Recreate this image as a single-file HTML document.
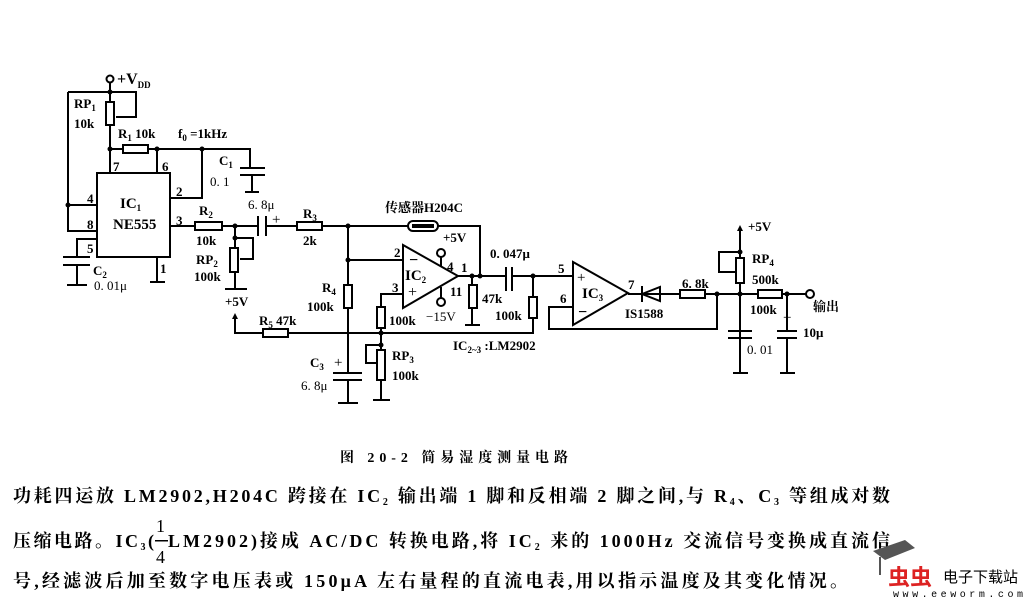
<!DOCTYPE html>
<html><head><meta charset="utf-8"><style>
html,body{margin:0;padding:0;background:#fff;}
svg{display:block}
text{font-family:"Liberation Serif","Noto Serif CJK SC",serif;fill:#000;}
.l{font-size:13px;font-weight:bold}
.s{font-size:9px;font-weight:bold}
</style></head><body>
<svg width="1024" height="597" viewBox="0 0 1024 597" xmlns="http://www.w3.org/2000/svg">
<g stroke="#000" stroke-width="2" fill="none">
<!-- VDD / RP1 -->
<circle cx="110" cy="79" r="3.5" fill="#fff"/>
<path d="M110 83V102 M110 125V173 M68 92H136V117H116 M68 92V231H97 M68 205H97"/>
<rect x="106" y="102" width="8" height="23"/>
<!-- R1 -->
<path d="M110 149H123 M148 149H250V168 M157 149V173 M202 149V198H170"/>
<rect x="123" y="145" width="25" height="8"/>
<path d="M240 168H265 M240 175H265 M252 175V192 M245 192H259" />
<!-- IC1 -->
<rect x="97" y="173" width="73" height="84"/>
<path d="M97 239H77V257 M63 257H90 M63 265H90 M77 265V285 M67 285H87 M157 257V282 M150 282H165"/>
<!-- pin3 chain -->
<path d="M170 226H195 M222 226H258 M267 226H297 M322 226H408 M438 226H480V276"/>
<rect x="195" y="222" width="27" height="8"/>
<path d="M258 216V236 M266 216V236"/>
<rect x="297" y="222" width="25" height="8"/>
<rect x="408" y="221" width="30" height="10" rx="5"/>
<path d="M412 226H434" stroke-width="4"/>
<!-- RP2 -->
<path d="M235 226V248 M235 272V289 M225 289H247 M235 238H253V259H240"/>
<rect x="230" y="248" width="8" height="24"/>
<!-- R4 / C3 -->
<path d="M348 226V285 M348 308V373 M348 260H403 M333 373H362 M333 380H362 M348 380V403 M338 403H358"/>
<rect x="344" y="285" width="8" height="23"/>
<!-- R5 line -->
<path d="M235 315V333H263 M288 333H533V318 M533 297V276"/>
<rect x="263" y="329" width="25" height="8"/>
<!-- IC2 -->
<path d="M403 245V308L458 276Z"/>
<path d="M403 294H381V307 M381 328V350 M381 380V400 M373 400H390 M381 345H366V363H376"/>
<rect x="377" y="307" width="8" height="21"/>
<rect x="377" y="350" width="8" height="30"/>
<path d="M441 257V266 M441 287V298"/>
<circle cx="441" cy="253" r="4" fill="#fff"/>
<circle cx="441" cy="302" r="4" fill="#fff"/>
<path d="M458 276H506 M512 276H573 M472 276V285 M472 308V325 M465 325H480"/>
<rect x="469" y="285" width="8" height="23"/>
<path d="M506 267V291 M512 267V291"/>
<rect x="529" y="297" width="8" height="21"/>
<!-- IC3 -->
<path d="M573 262V325L628 293Z"/>
<path d="M573 307H549V329H717V294 M628 294H680 M705 294H806"/>
<path d="M642 294L660 287V301Z"/>
<path d="M642 286V302"/>
<rect x="680" y="290" width="25" height="8" fill="#fff"/>
<!-- RP4 -->
<path d="M740 227V258 M740 283V337 M740 252H719V272H735"/>
<rect x="736" y="258" width="8" height="25"/>
<rect x="758" y="290" width="24" height="8" fill="#fff"/>
<path d="M728 331H752 M728 338H752 M740 338V373 M733 373H748 M787 294V331 M777 331H797 M777 338H797 M787 338V373 M780 373H795"/>
<circle cx="810" cy="294" r="4" fill="#fff"/>
</g>
<g fill="#000">
<circle cx="110" cy="92" r="2.5"/><circle cx="68" cy="205" r="2.5"/><circle cx="110" cy="149" r="2.5"/>
<circle cx="157" cy="149" r="2.5"/><circle cx="202" cy="149" r="2.5"/><circle cx="235" cy="226" r="2.5"/>
<circle cx="235" cy="238" r="2.5"/><circle cx="348" cy="226" r="2.5"/><circle cx="348" cy="260" r="2.5"/>
<circle cx="381" cy="333" r="2.5"/><circle cx="381" cy="345" r="2.5"/><circle cx="472" cy="276" r="2.5"/>
<circle cx="480" cy="276" r="2.5"/><circle cx="533" cy="276" r="2.5"/><circle cx="717" cy="294" r="2.5"/>
<circle cx="740" cy="294" r="2.5"/><circle cx="740" cy="252" r="2.5"/><circle cx="787" cy="294" r="2.5"/>
<path d="M235 313l-3 6h6z M740 225l-3 6h6z"/>
</g>
<!-- labels -->
<g class="l">
<text x="117" y="84" font-size="16">+V<tspan class="s" dy="4">DD</tspan></text>
<text x="74" y="108">RP<tspan class="s" dy="3">1</tspan></text>
<text x="74" y="128">10k</text>
<text x="118" y="138">R<tspan class="s" dy="3">1</tspan><tspan dy="-3"> 10k</tspan></text>
<text x="178" y="138">f<tspan class="s" dy="3">0</tspan><tspan dy="-3"> =1kHz</tspan></text>
<text x="219" y="165">C<tspan class="s" dy="3">1</tspan></text>
<text x="210" y="186" font-weight="normal">0. 1</text>
<text x="113" y="171">7</text><text x="162" y="171">6</text>
<text x="176" y="196">2</text><text x="176" y="225">3</text>
<text x="87" y="203">4</text><text x="87" y="229">8</text><text x="87" y="253">5</text>
<text x="160" y="273">1</text>
<text x="120" y="208" font-size="15">IC<tspan class="s" dy="3">1</tspan></text>
<text x="113" y="229" font-size="15">NE555</text>
<text x="93" y="275">C<tspan class="s" dy="3">2</tspan></text>
<text x="94" y="290" font-weight="normal">0. 01μ</text>
<text x="199" y="215">R<tspan class="s" dy="3">2</tspan></text>
<text x="196" y="245">10k</text>
<text x="196" y="264">RP<tspan class="s" dy="3">2</tspan></text>
<text x="194" y="281">100k</text>
<text x="248" y="209" font-weight="normal">6. 8μ</text>
<text x="272" y="224" font-size="15" font-weight="normal">+</text>
<text x="303" y="218">R<tspan class="s" dy="3">3</tspan></text>
<text x="303" y="245">2k</text>
<text x="385" y="212">传感器H204C</text>
<text x="443" y="242">+5V</text>
<text x="394" y="257">2</text><text x="392" y="292">3</text>
<text x="447" y="271">4</text><text x="461" y="272">1</text><text x="450" y="296">11</text>
<text x="409" y="265" font-size="16">−</text>
<text x="408" y="297" font-size="16" font-weight="normal">+</text>
<text x="405" y="280" font-size="15">IC<tspan class="s" dy="3">2</tspan></text>
<text x="389" y="325">100k</text>
<text x="426" y="321" font-weight="normal">−15V</text>
<text x="322" y="292">R<tspan class="s" dy="3">4</tspan></text>
<text x="307" y="311">100k</text>
<text x="225" y="306">+5V</text>
<text x="259" y="325">R<tspan class="s" dy="3">5</tspan><tspan dy="-3"> 47k</tspan></text>
<text x="310" y="367">C<tspan class="s" dy="3">3</tspan></text>
<text x="301" y="390" font-weight="normal">6. 8μ</text>
<text x="334" y="367" font-weight="normal" font-size="15">+</text>
<text x="392" y="360">RP<tspan class="s" dy="3">3</tspan></text>
<text x="392" y="380">100k</text>
<text x="453" y="350">IC<tspan class="s" dy="3">2~3</tspan><tspan dy="-3"> :LM2902</tspan></text>
<text x="490" y="258">0. 047μ</text>
<text x="482" y="303">47k</text>
<text x="495" y="320">100k</text>
<text x="558" y="273">5</text><text x="560" y="303">6</text><text x="628" y="289">7</text>
<text x="582" y="298" font-size="15">IC<tspan class="s" dy="3">3</tspan></text>
<text x="577" y="282" font-size="15" font-weight="normal">+</text>
<text x="578" y="317" font-size="16">−</text>
<text x="625" y="318">IS1588</text>
<text x="682" y="288">6. 8k</text>
<text x="748" y="231">+5V</text>
<text x="752" y="263">RP<tspan class="s" dy="3">4</tspan></text>
<text x="752" y="284">500k</text>
<text x="750" y="314">100k</text>
<text x="813" y="311">输出</text>
<text x="747" y="354" font-weight="normal">0. 01</text>
<text x="783" y="322" font-weight="normal" font-size="15">+</text>
<text x="803" y="337">10μ</text>
</g>
<text x="340" y="462" font-size="14" font-weight="bold" textLength="228" lengthAdjust="spacing">图 20-2   简易湿度测量电路</text>
<g font-size="18" font-weight="bold">
<text x="13" y="502" textLength="877" lengthAdjust="spacing">功耗四运放 LM2902,H204C 跨接在 IC<tspan font-size="10" dy="3">2</tspan><tspan dy="-3"> 输出端 1 脚和反相端 2 脚之间,与 R</tspan><tspan font-size="10" dy="3">4</tspan><tspan dy="-3">、C</tspan><tspan font-size="10" dy="3">3</tspan><tspan dy="-3"> 等组成对数</tspan></text>
<text x="13" y="547" textLength="141" lengthAdjust="spacing">压缩电路。IC<tspan font-size="10" dy="3">3</tspan><tspan dy="-3">(</tspan></text>
<text x="156" y="532" font-weight="normal">1</text>
<rect x="155" y="540" width="13" height="1.5" fill="#000"/>
<text x="156" y="563" font-weight="normal">4</text>
<text x="168" y="547" textLength="722" lengthAdjust="spacing">LM2902)接成 AC/DC 转换电路,将 IC<tspan font-size="10" dy="3">2</tspan><tspan dy="-3"> 来的 1000Hz 交流信号变换成直流信</tspan></text>
<text x="13" y="587" textLength="835" lengthAdjust="spacing">号,经滤波后加至数字电压表或 150μA 左右量程的直流电表,用以指示温度及其变化情况。</text>
</g>
<!-- logo -->
<path d="M873 551L905 540L915 548L885 560Z" fill="#555"/>
<path d="M880 557V575" stroke="#555" stroke-width="2"/>
<text x="888" y="585" font-size="22" font-weight="bold" fill="#d22" style="fill:#d22;font-family:'Noto Sans CJK SC',sans-serif">虫虫</text>
<text x="943" y="582" font-size="15" style="font-family:'Noto Sans CJK SC',sans-serif">电子下载站</text>
<text x="893" y="597" font-size="10" style="font-family:'Liberation Mono',monospace" textLength="130">www.eeworm.com</text>
</svg>
</body></html>
